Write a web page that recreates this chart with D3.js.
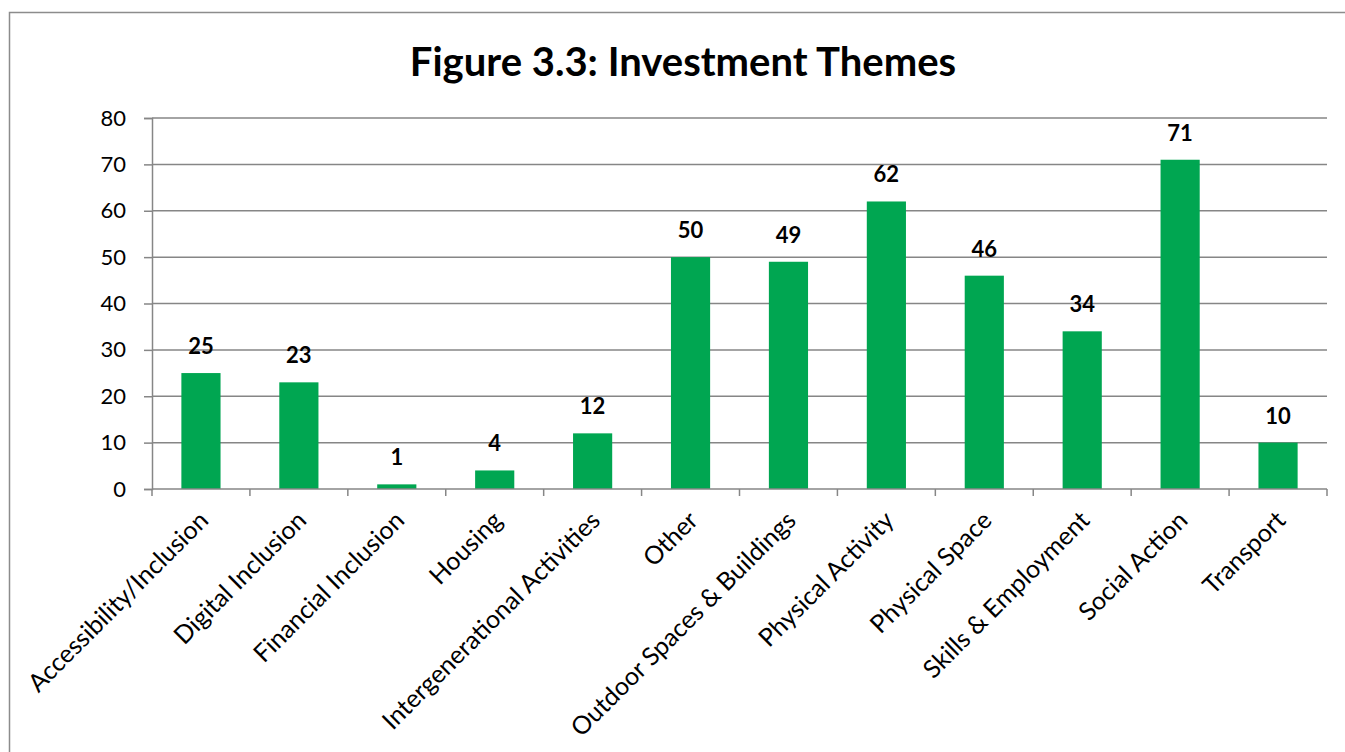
<!DOCTYPE html>
<html>
<head>
<meta charset="utf-8">
<script src="https://cdn.jsdelivr.net/npm/d3@7"></script>
<style>
  html, body { margin: 0; padding: 0; background: #fff; }
  svg { display: block; }
  text { font-family: Lato, "Liberation Sans", sans-serif; fill: #000; }
</style>
</head>
<body>
<svg id="chart" width="1345" height="752"></svg>
<script>
const categories = [
  "Accessibility/Inclusion", "Digital Inclusion", "Financial Inclusion", "Housing",
  "Intergenerational Activities", "Other", "Outdoor Spaces & Buildings",
  "Physical Activity", "Physical Space", "Skills & Employment", "Social Action", "Transport"
];
const counts = [25, 23, 1, 4, 12, 50, 49, 62, 46, 34, 71, 10];
const yTicks = [0, 10, 20, 30, 40, 50, 60, 70, 80];
const title = "Figure 3.3: Investment Themes";

const svg = d3.select("#chart");
const W = 1345, H = 752;
const plot = { left: 152, right: 1327, top: 118, bottom: 489 };
const gridColor = "#868686";
const barColor = "#00A651";

// outer frame of the chart area
svg.append("path")
  .attr("d", `M9.5,${H} V12.5 H${W}`)
  .attr("fill", "none").attr("stroke", "#8c8c8c").attr("stroke-width", 1.5);

svg.append("text")
  .attr("x", 683).attr("y", 76)
  .attr("text-anchor", "middle")
  .attr("font-size", 40).attr("font-weight", 700)
  .text(title);

const x = d3.scaleBand().domain(categories).range([plot.left, plot.right]).paddingInner(0).paddingOuter(0);
const y = d3.scaleLinear().domain([0, 80]).range([plot.bottom, plot.top]);

// horizontal gridlines
svg.append("g").selectAll("line").data(yTicks.filter(d => d > 0)).join("line")
  .attr("x1", plot.left).attr("x2", plot.right)
  .attr("y1", d => y(d)).attr("y2", d => y(d))
  .attr("stroke", gridColor).attr("stroke-width", 1.5);

// y axis
const yAxis = svg.append("g").attr("transform", `translate(${plot.left},0)`)
  .call(d3.axisLeft(y).tickValues(yTicks).tickSize(8).tickPadding(18));
yAxis.select(".domain").attr("stroke", gridColor).attr("stroke-width", 1.5);
yAxis.selectAll(".tick line").attr("stroke", gridColor).attr("stroke-width", 1.5);
yAxis.selectAll(".tick text").attr("font-size", 22).attr("font-family", "Lato, sans-serif").attr("fill", "#000");

// bars
const barW = x.bandwidth() * 0.4;
svg.append("g").selectAll("rect").data(categories).join("rect")
  .attr("x", d => x(d) + (x.bandwidth() - barW) / 2)
  .attr("width", barW)
  .attr("y", (d, i) => y(counts[i]))
  .attr("height", (d, i) => y(0) - y(counts[i]))
  .attr("fill", barColor);

// value labels
svg.append("g").selectAll("text").data(categories).join("text")
  .attr("x", d => x(d) + x.bandwidth() / 2)
  .attr("y", (d, i) => y(counts[i]) - 19)
  .attr("text-anchor", "middle")
  .attr("font-size", 22).attr("font-weight", 700)
  .text((d, i) => counts[i]);

// x axis with ticks at category boundaries
const xb = svg.append("g").attr("transform", `translate(0,${plot.bottom})`);
xb.append("line").attr("x1", plot.left).attr("x2", plot.right)
  .attr("stroke", gridColor).attr("stroke-width", 1.5);
const boundaries = categories.map(c => x(c)).concat([plot.right]);
xb.selectAll("line.tk").data(boundaries).join("line").attr("class", "tk")
  .attr("x1", d => d).attr("x2", d => d).attr("y1", 0).attr("y2", 7)
  .attr("stroke", gridColor).attr("stroke-width", 1.5);

xb.selectAll("text").data(categories).join("text")
  .attr("transform", d => `translate(${x(d) + x.bandwidth() / 2 + 9},${33}) rotate(-45)`)
  .attr("text-anchor", "end")
  .attr("font-size", 25)
  .text(d => d);
</script>
</body>
</html>
